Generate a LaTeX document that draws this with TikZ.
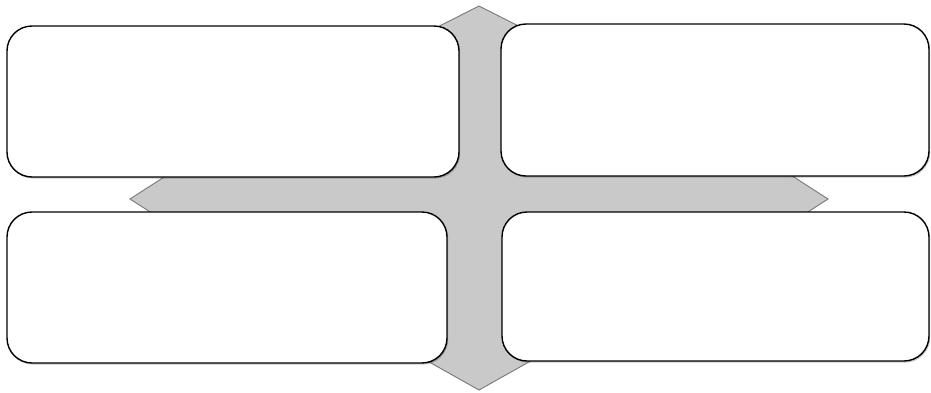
\documentclass[tikz,border=0pt]{standalone}
\usetikzlibrary{shadows}
\definecolor{crossfill}{RGB}{201,201,201}
\definecolor{crossline}{RGB}{120,120,120}
\tikzset{
  panel/.style={draw=black, line width=1.4pt, fill=white, rounded corners=25pt,
    anchor=north west, inner sep=0pt, outer sep=0pt,
    drop shadow={shadow xshift=1.2pt, shadow yshift=-1.6pt, opacity=0.22, fill=black}},
  crossshape/.style={draw=crossline, line width=0.9pt, fill=crossfill, line join=miter}
}
\begin{document}
\begin{tikzpicture}[x=1pt,y=-1pt]
\useasboundingbox (0,0) rectangle (931,392);
\fill[white] (0,0) rectangle (931,392);
\draw[crossshape] (479,6) -- (558,46) -- (540,46) -- (540,165) -- (752,165) -- (752,150)
  -- (828,199) -- (752,248) -- (752,233) -- (540,233) -- (540,340) -- (568,340)
  -- (479,390) -- (390,340) -- (420,340) -- (420,233) -- (206,233) -- (206,248)
  -- (130,199) -- (206,150) -- (206,165) -- (420,165) -- (420,46) -- (400,46) -- cycle;
\node[panel, minimum width=452pt, minimum height=151pt] (tl) at (7,26) {};
\node[panel, minimum width=428pt, minimum height=152pt] (tr) at (501,24) {};
\node[panel, minimum width=440pt, minimum height=151pt] (bl) at (7,212) {};
\node[panel, minimum width=427pt, minimum height=149pt] (br) at (502,212) {};
\end{tikzpicture}
\end{document}
